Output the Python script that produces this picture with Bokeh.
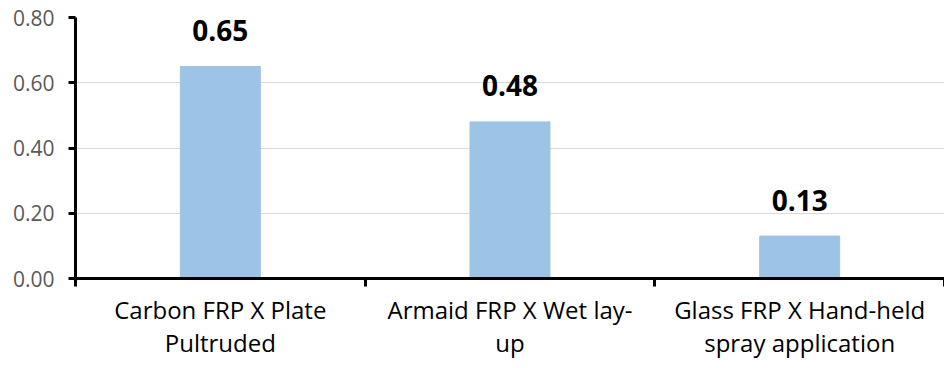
from bokeh.plotting import figure
from bokeh.models import Range1d, FixedTicker, NumeralTickFormatter, ColumnDataSource
from bokeh.core.properties import value
from bokeh.embed import file_html
from bokeh.resources import INLINE

categories = ["Carbon FRP X Plate\nPultruded", "Armaid FRP X Wet lay-\nup", "Glass FRP X Hand-held\nspray application"]
values = [0.65, 0.48, 0.13]
y_ticks = [0.0, 0.2, 0.4, 0.6, 0.8]

FONT = "Open Sans"
xs = [i + 0.5 for i in range(len(categories))]
src = ColumnDataSource(dict(x=xs, top=values, label=[f"{v:.2f}" for v in values]))

p = figure(width=944, height=368, output_backend="svg", toolbar_location=None,
           x_range=Range1d(0, len(categories)), y_range=Range1d(0, 0.8),
           min_border_left=75, min_border_right=0, min_border_top=17, min_border_bottom=90)
p.outline_line_color = None
p.background_fill_color = "white"
p.border_fill_color = "white"

p.vbar(x="x", top="top", width=0.276, bottom=0, source=src, color="#9DC3E6")
p.text(x="x", y="top", text="label", source=src, text_align="center", text_baseline="alphabetic",
       y_offset=-36, text_font=value(FONT), text_font_style="bold", text_font_size="28px",
       text_color="black")

# y axis
ya = p.yaxis[0]
ya.ticker = FixedTicker(ticks=y_ticks, minor_ticks=[])
ya.formatter = NumeralTickFormatter(format="0.00")
ya.axis_line_color = "black"
ya.axis_line_width = 3
ya.major_tick_line_color = "black"
ya.major_tick_line_width = 3
ya.major_tick_out = 7
ya.major_tick_in = 0
ya.major_label_standoff = 14
ya.major_label_text_font = FONT
ya.major_label_text_font_size = "21px"
ya.major_label_text_color = "#595959"

# x axis
xa = p.xaxis[0]
xa.ticker = FixedTicker(ticks=xs, minor_ticks=list(range(len(categories) + 1)))
xa.major_label_overrides = {x: c for x, c in zip(xs, categories)}
xa.axis_line_color = "black"
xa.axis_line_width = 3
xa.major_tick_line_color = None
xa.major_tick_out = 0
xa.major_tick_in = 0
xa.minor_tick_line_color = "black"
xa.minor_tick_line_width = 3
xa.minor_tick_out = 8
xa.minor_tick_in = 0
xa.major_label_standoff = 6
xa.major_label_text_font = FONT
xa.major_label_text_font_size = "24px"
xa.major_label_text_color = "black"
xa.major_label_text_line_height = 1.0

p.xgrid.visible = False
p.ygrid.grid_line_color = "#D9D9D9"
p.ygrid.grid_line_width = 1
p.ygrid.ticker = FixedTicker(ticks=y_ticks)

open("out.html", "w").write(file_html(p, INLINE))
